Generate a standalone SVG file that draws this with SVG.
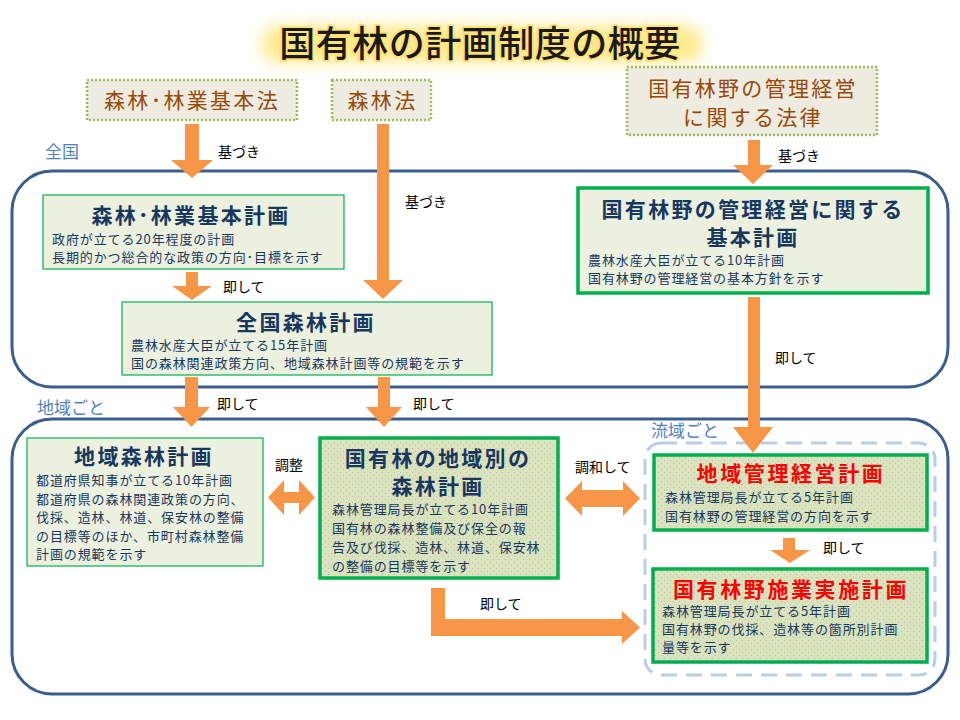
<svg xmlns="http://www.w3.org/2000/svg" width="960" height="720" viewBox="0 0 960 720">
<defs>
<style>
text{font-family:"Noto Sans CJK JP","Noto Sans CJK SC",sans-serif;}
.law{fill:#EEECE1;stroke:#9BBB59;stroke-width:2.5;stroke-dasharray:2 2;}
.lawt{fill:#984807;font-size:21px;letter-spacing:2.3px;text-anchor:middle;}
.lite{fill:#EBF1DE;stroke:#00B050;stroke-width:1.2;}
.dot{fill:url(#dots);stroke:#00B050;stroke-width:3.5;}
.dotthin{fill:#EBF1DE;stroke:#00B050;stroke-width:3.5;}
.ttl{fill:#17375E;font-size:21px;letter-spacing:2.3px;font-weight:bold;text-anchor:middle;}
.red{fill:#FF0000;font-size:21px;letter-spacing:2.6px;font-weight:bold;text-anchor:middle;}
.sub{fill:#17375E;font-size:13px;letter-spacing:0.9px;}
.lbl{fill:#000;font-size:14px;}
.reg{fill:#4F81BD;font-size:17px;}
.cont{fill:#fff;stroke:#3B5E8C;stroke-width:3;}
.arr{fill:#F79646;}
</style>
<pattern id="dots" width="6" height="6" patternUnits="userSpaceOnUse">
<rect width="6" height="6" fill="#D8E4BC"/>
<rect x="1" y="1" width="1" height="1" fill="#E0A8C0"/>
<rect x="4" y="4" width="1" height="1" fill="#E0A8C0"/>
</pattern>
<filter id="blur" x="-20%" y="-50%" width="140%" height="200%">
<feGaussianBlur stdDeviation="8"/>
</filter>
</defs>
<rect width="960" height="720" fill="#fff"/>

<g id="title">
<rect x="262" y="26" width="440" height="36" rx="15" fill="#FFE98A" filter="url(#blur)"/>
<text x="480" y="57" font-size="36" letter-spacing="0.5" font-weight="500" text-anchor="middle" fill="#1a1a1a" stroke="#FFE27A" stroke-width="4" paint-order="stroke" stroke-linejoin="round">国有林の計画制度の概要</text>
</g>

<g id="containers">
<rect class="cont" x="12" y="171" width="936" height="216" rx="40"/>
<rect class="cont" x="12" y="419" width="936" height="275" rx="40"/>
<rect x="645" y="443" width="290" height="232" rx="16" fill="none" stroke="#B9CDE5" stroke-width="3" stroke-dasharray="16 9"/>
<text class="reg" x="45" y="158">全国</text>
<text class="reg" x="37" y="414">地域ごと</text>
<text class="reg" x="651" y="437" font-size="15">流域ごと</text>
</g>

<g id="law1">
<rect class="law" x="87" y="80" width="210" height="40"/>
<text class="lawt" x="192" y="108">森林･林業基本法</text>
</g>
<g id="law2">
<rect class="law" x="332" y="80" width="99" height="40"/>
<text class="lawt" x="382.5" y="108">森林法</text>
</g>
<g id="law3">
<rect class="law" x="627" y="67" width="250" height="68"/>
<text class="lawt" x="753" y="96">国有林野の管理経営</text>
<text class="lawt" x="753" y="125">に関する法律</text>
</g>

<g id="kihon">
<rect class="lite" x="43" y="195" width="301" height="74"/>
<text class="ttl" x="191" y="223">森林･林業基本計画</text>
<text class="sub" x="52" y="244">政府が立てる20年程度の計画</text>
<text class="sub" x="52" y="262">長期的かつ総合的な政策の方向･目標を示す</text>
</g>

<g id="zenkoku">
<rect class="lite" x="122" y="302" width="370" height="73"/>
<text class="ttl" x="306" y="330">全国森林計画</text>
<text class="sub" x="131" y="350">農林水産大臣が立てる15年計画</text>
<text class="sub" x="131" y="368">国の森林関連政策方向、地域森林計画等の規範を示す</text>
</g>

<g id="kanri-kihon">
<rect class="dotthin" x="578" y="188" width="350" height="105"/>
<text class="ttl" x="753" y="217">国有林野の管理経営に関する</text>
<text class="ttl" x="753" y="245">基本計画</text>
<text class="sub" x="588" y="265">農林水産大臣が立てる10年計画</text>
<text class="sub" x="588" y="283">国有林野の管理経営の基本方針を示す</text>
</g>

<g id="chiiki">
<rect class="lite" x="27" y="438" width="236" height="128"/>
<text class="ttl" x="144" y="464">地域森林計画</text>
<text class="sub" x="36" y="485">都道府県知事が立てる10年計画</text>
<text class="sub" x="36" y="504">都道府県の森林関連政策の方向、</text>
<text class="sub" x="36" y="522">伐採、造林、林道、保安林の整備</text>
<text class="sub" x="36" y="541">の目標等のほか、市町村森林整備</text>
<text class="sub" x="36" y="559">計画の規範を示す</text>
</g>

<g id="kokuyu-chiiki">
<rect class="dot" x="320" y="438" width="238" height="140"/>
<text class="ttl" x="438" y="466">国有林の地域別の</text>
<text class="ttl" x="438" y="494">森林計画</text>
<text class="sub" x="332" y="514">森林管理局長が立てる10年計画</text>
<text class="sub" x="332" y="533">国有林の森林整備及び保全の報</text>
<text class="sub" x="332" y="552">告及び伐採、造林、林道、保安林</text>
<text class="sub" x="332" y="571">の整備の目標等を示す</text>
</g>

<g id="chiiki-kanri">
<rect class="dot" x="654" y="455" width="273" height="75"/>
<text class="red" x="791" y="481">地域管理経営計画</text>
<text class="sub" x="665" y="502">森林管理局長が立てる5年計画</text>
<text class="sub" x="665" y="521">国有林野の管理経営の方向を示す</text>
</g>

<g id="sekyo">
<rect class="dot" x="653" y="569" width="274" height="93"/>
<text class="red" x="791" y="597">国有林野施業実施計画</text>
<text class="sub" x="662" y="616">森林管理局長が立てる5年計画</text>
<text class="sub" x="662" y="634">国有林野の伐採、造林等の箇所別計画</text>
<text class="sub" x="662" y="652">量等を示す</text>
</g>

<g id="connectors">
<polygon class="arr" points="185,124 199,124 199,160 213,160 192,178 171,160 185,160"/>
<polygon class="arr" points="377,124 389,124 389,280 403,280 383,299 363,280 377,280"/>
<polygon class="arr" points="748,140 760,140 760,165 773,165 753,184 733,165 748,165"/>
<polygon class="arr" points="186,272 198,272 198,286 212,286 192,300 172,286 186,286"/>
<polygon class="arr" points="185,377 198,377 198,407 210,407 191.5,427 173,407 185,407"/>
<polygon class="arr" points="378,377 390,377 390,407 402,407 384,427 366,407 378,407"/>
<polygon class="arr" points="748,297 760,297 760,427 773,427 753,453 733,427 748,427"/>
<polygon class="arr" points="783,538 795,538 795,550 810,550 790,563 770,550 783,550"/>
<polygon class="arr" points="268,497.5 284,480 284,492 299,492 299,480 315,497.5 299,515 299,503 284,503 284,515"/>
<polygon class="arr" points="565,498.5 582,481 582,490 623,490 623,481 640,498.5 623,516 623,507 582,507 582,516"/>
<polygon class="arr" points="431,588 445,588 445,619 622,619 622,611 640,627.5 622,644 622,636 431,636"/>
<text class="lbl" x="218" y="157">基づき</text>
<text class="lbl" x="405" y="207">基づき</text>
<text class="lbl" x="778" y="161">基づき</text>
<text class="lbl" x="223" y="292">即して</text>
<text class="lbl" x="217" y="409">即して</text>
<text class="lbl" x="413" y="409">即して</text>
<text class="lbl" x="775" y="363">即して</text>
<text class="lbl" x="275" y="470">調整</text>
<text class="lbl" x="575" y="472">調和して</text>
<text class="lbl" x="480" y="609">即して</text>
<text class="lbl" x="823" y="553">即して</text>
</g>
</svg>
